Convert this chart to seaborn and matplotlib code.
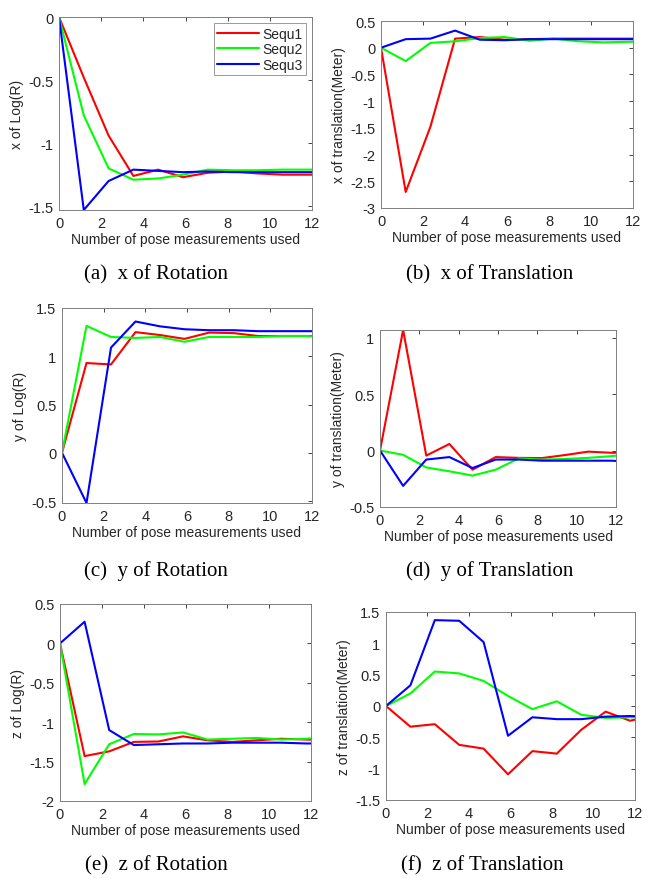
import numpy as np
import pandas as pd
import matplotlib
matplotlib.use("Agg")
import matplotlib.pyplot as plt
import seaborn as sns

# measurement index (x axis), 12 samples, last one falls beyond the axis limit
x_vals = np.arange(12) * 1.176
series_names = ["Sequ1", "Sequ2", "Sequ3"]

# (a) x of Log(R)
rot_x_s1 = [0, -0.48, -0.94, -1.26, -1.21, -1.27, -1.235, -1.225, -1.24, -1.25, -1.25, -1.25]
rot_x_s2 = [0, -0.78, -1.20, -1.29, -1.28, -1.25, -1.21, -1.215, -1.215, -1.21, -1.21, -1.21]
rot_x_s3 = [0, -1.53, -1.30, -1.21, -1.22, -1.23, -1.225, -1.23, -1.23, -1.23, -1.23, -1.23]

# (b) x of translation
tra_x_s1 = [0, -2.70, -1.48, 0.17, 0.20, 0.15, 0.16, 0.17, 0.17, 0.17, 0.17, 0.17]
tra_x_s2 = [0, -0.25, 0.09, 0.12, 0.18, 0.20, 0.13, 0.17, 0.12, 0.10, 0.11, 0.12]
tra_x_s3 = [0, 0.16, 0.17, 0.32, 0.15, 0.14, 0.16, 0.16, 0.16, 0.16, 0.16, 0.16]

# (c) y of Log(R)
rot_y_s1 = [0, 0.93, 0.915, 1.25, 1.22, 1.18, 1.245, 1.24, 1.21, 1.21, 1.21, 1.21]
rot_y_s2 = [0, 1.315, 1.20, 1.19, 1.20, 1.15, 1.20, 1.20, 1.20, 1.21, 1.21, 1.19]
rot_y_s3 = [0, -0.52, 1.09, 1.36, 1.31, 1.28, 1.27, 1.27, 1.26, 1.26, 1.26, 1.26]

# (d) y of translation
tra_y_s1 = [0, 1.067, -0.045, 0.058, -0.17, -0.058, -0.065, -0.067, -0.04, -0.01, -0.02, -0.02]
tra_y_s2 = [0, -0.038, -0.15, -0.184, -0.222, -0.17, -0.07, -0.08, -0.075, -0.065, -0.05, -0.03]
tra_y_s3 = [0, -0.313, -0.08, -0.058, -0.155, -0.08, -0.08, -0.09, -0.09, -0.09, -0.09, -0.10]

# (e) z of Log(R)
rot_z_s1 = [0, -1.43, -1.37, -1.25, -1.245, -1.18, -1.23, -1.25, -1.23, -1.21, -1.22, -1.23]
rot_z_s2 = [0, -1.785, -1.28, -1.15, -1.155, -1.13, -1.22, -1.21, -1.20, -1.22, -1.21, -1.19]
rot_z_s3 = [0, 0.275, -1.10, -1.29, -1.28, -1.27, -1.27, -1.26, -1.26, -1.26, -1.27, -1.27]

# (f) z of translation
tra_z_s1 = [0, -0.33, -0.29, -0.62, -0.68, -1.09, -0.72, -0.76, -0.38, -0.09, -0.235, -0.15]
tra_z_s2 = [0, 0.20, 0.55, 0.52, 0.40, 0.16, -0.05, 0.075, -0.14, -0.19, -0.18, -0.18]
tra_z_s3 = [0, 0.33, 1.37, 1.36, 1.02, -0.475, -0.18, -0.21, -0.21, -0.17, -0.16, -0.17]

ylabels = ["x of Log(R)", "x of translation(Meter)",
           "y of Log(R)", "y of translation(Meter)",
           "z of Log(R)", "z of translation(Meter)"]
captions = ["(a)  x of Rotation", "(b)  x of Translation",
            "(c)  y of Rotation", "(d)  y of Translation",
            "(e)  z of Rotation", "(f)  z of Translation"]
panel_data = [(rot_x_s1, rot_x_s2, rot_x_s3), (tra_x_s1, tra_x_s2, tra_x_s3),
              (rot_y_s1, rot_y_s2, rot_y_s3), (tra_y_s1, tra_y_s2, tra_y_s3),
              (rot_z_s1, rot_z_s2, rot_z_s3), (tra_z_s1, tra_z_s2, tra_z_s3)]
ylims = [(-1.53, 0), (-3, 0.5), (-0.52, 1.5), (-0.5, 1.067), (-2, 0.5), (-1.5, 1.5)]
yticks = [[-1.5, -1, -0.5, 0], [-3, -2.5, -2, -1.5, -1, -0.5, 0, 0.5],
          [-0.5, 0, 0.5, 1, 1.5], [-0.5, 0, 0.5, 1],
          [-2, -1.5, -1, -0.5, 0, 0.5], [-1.5, -1, -0.5, 0, 0.5, 1, 1.5]]

# axes boxes in pixels: left, right, top, bottom
W, H = 651, 879
boxes = [(59, 312, 18, 211), (381, 633, 22, 209),
         (62, 312, 309, 504), (380, 616, 331, 508),
         (60, 311, 605, 802), (386, 635, 613, 801)]
caption_xy = [(156, 275), (490, 275), (156, 571), (490, 571), (156, 866), (482, 866)]

sns.set_style("white")
plt.rcParams["font.family"] = ["Liberation Sans", "DejaVu Sans"]
palette = {"Sequ1": "#ff0000", "Sequ2": "#00ff00", "Sequ3": "#0000ff"}
axis_grey = "#262626"

fig = plt.figure(figsize=(W / 100, H / 100), dpi=100)

for i, (box, vals) in enumerate(zip(boxes, panel_data)):
    l, r, t, b = box
    ax = fig.add_axes([l / W, 1 - b / H, (r - l) / W, (b - t) / H])
    df = pd.DataFrame({
        "x": np.tile(x_vals, 3),
        "y": np.concatenate(vals),
        "seq": np.repeat(series_names, len(x_vals)),
    })
    sns.lineplot(data=df, x="x", y="y", hue="seq", palette=palette,
                 linewidth=1.5, ax=ax, legend=(i == 0))
    ax.set_xlim(0, 12)
    ax.set_ylim(*ylims[i])
    ax.set_xticks([0, 2, 4, 6, 8, 10, 12])
    ax.set_yticks(yticks[i])
    ax.set_yticklabels(["%g" % v for v in yticks[i]])
    ax.set_xlabel("Number of pose measurements used", fontsize=10, color=axis_grey, labelpad=2)
    ax.set_ylabel(ylabels[i], fontsize=10, color=axis_grey, labelpad=3)
    ax.tick_params(direction="in", length=3, width=0.6, top=True, right=True,
                   labelsize=10.5, colors=axis_grey, pad=4)
    for sp in ax.spines.values():
        sp.set_visible(True)
        sp.set_color("#808080")
        sp.set_linewidth(0.7)
    if i == 0:
        leg = ax.legend(loc="upper right", fontsize=10, frameon=True, fancybox=False,
                        handlelength=3.0, handletextpad=0.2, borderpad=0.25,
                        labelspacing=0.1, borderaxespad=0.45)
        leg.get_frame().set_edgecolor("#808080")
        leg.get_frame().set_linewidth(0.7)
    cx, cy = caption_xy[i]
    fig.text(cx / W, 1 - cy / H, captions[i], ha="center", va="center",
             fontsize=15, family=["Liberation Serif", "DejaVu Serif"], color="black")

fig.savefig("out.png", dpi=100)
